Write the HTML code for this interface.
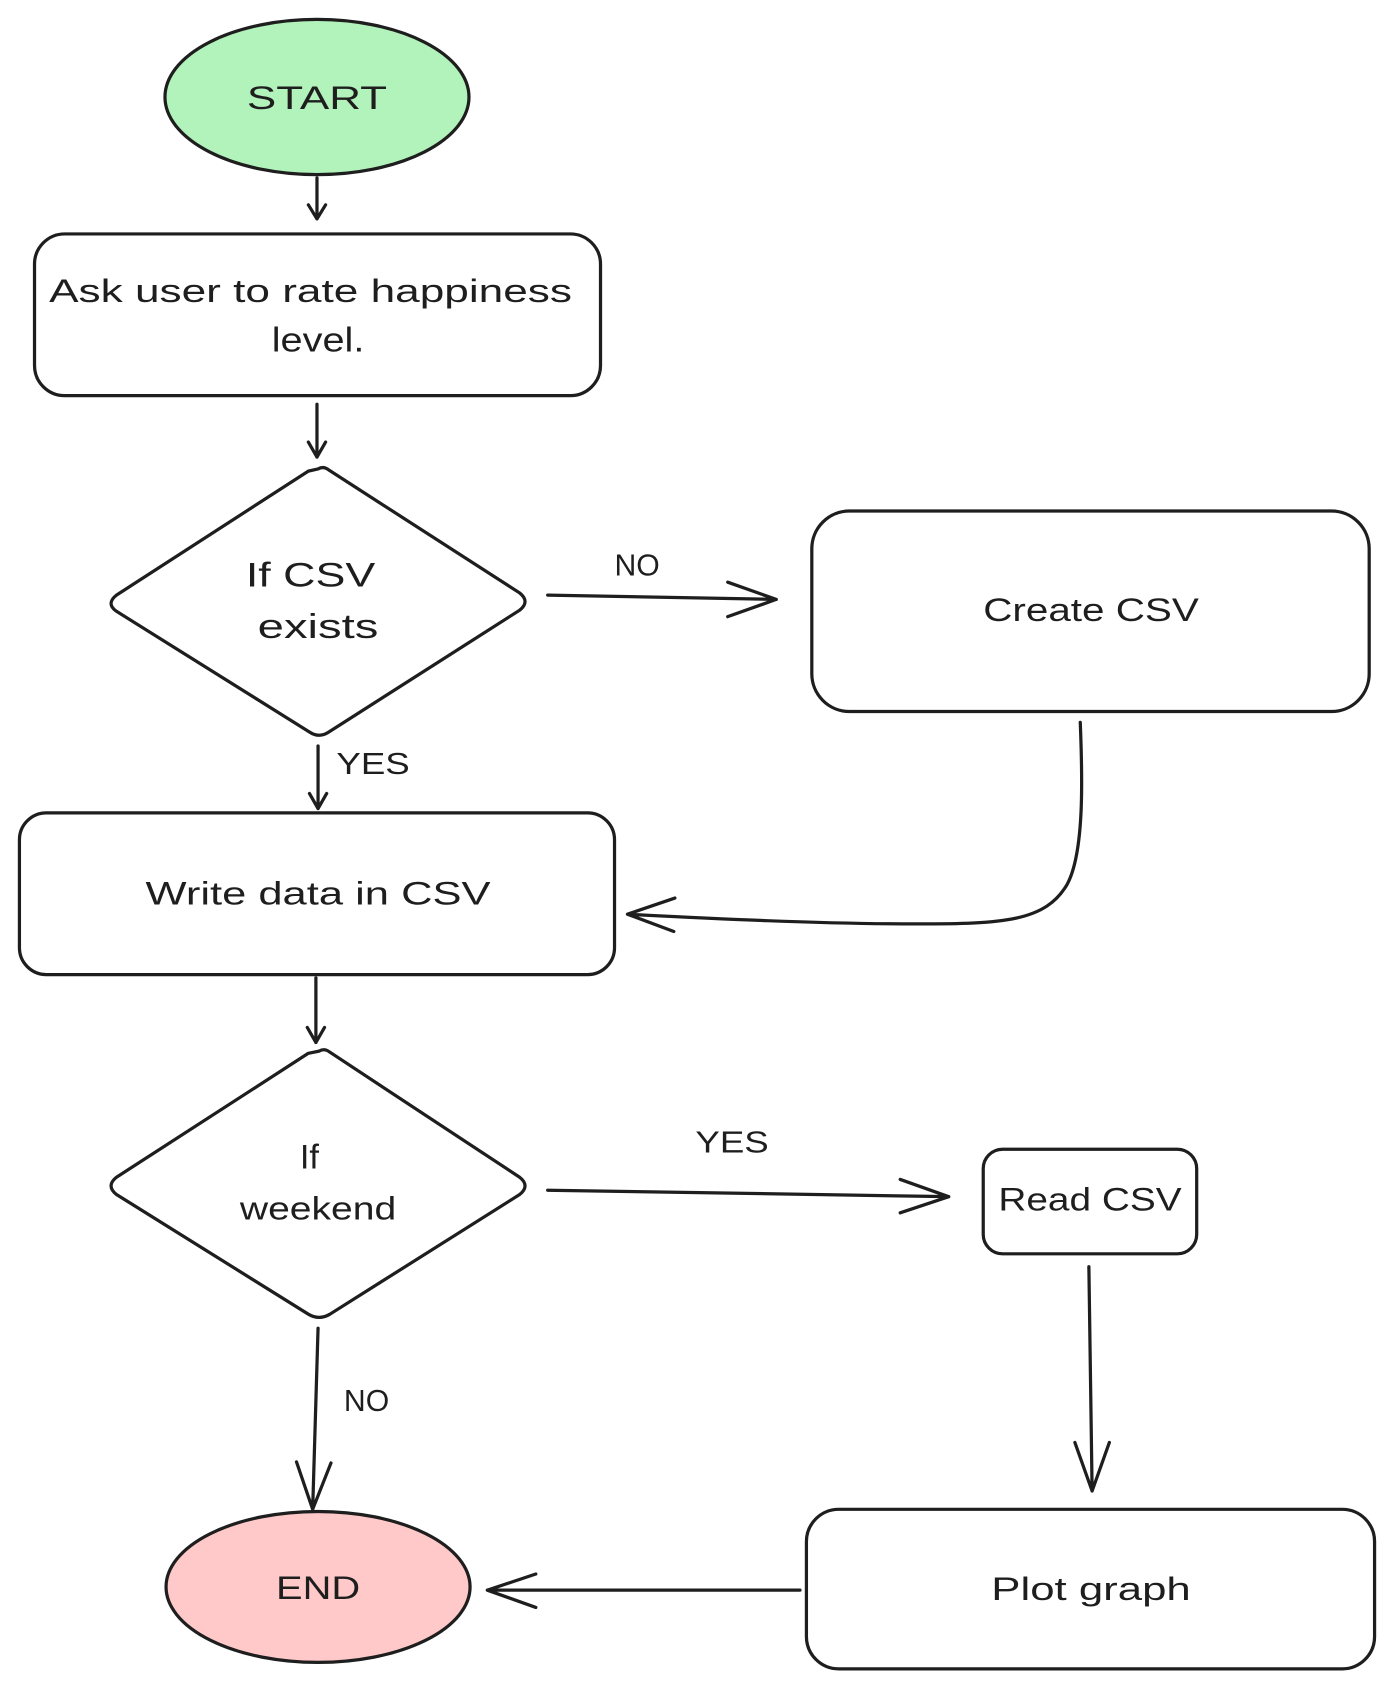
<!DOCTYPE html>
<html><head><meta charset="utf-8"><style>html,body{margin:0;padding:0;background:#fff}svg{display:block}text{font-family:"Liberation Sans",sans-serif;fill:#1e1e1e;text-anchor:middle}</style></head>
<body>
<svg width="1394" height="1690" viewBox="0 0 1293 1567.6" xmlns="http://www.w3.org/2000/svg">
<g stroke="#1e1e1e" stroke-width="3" fill="none" stroke-linecap="round" stroke-linejoin="round">
<ellipse cx="294" cy="90" rx="141" ry="72" fill="#b2f2bb"/>
<rect x="32" y="217" width="525" height="150" rx="28" fill="#fff"/>
<path d="M295 435 Q300 432 305 436 L482 550 Q492 558 482 566 L305 679 Q296 685 287 679 L108 567 Q98 560 108 552 L286 437 Z" fill="#fff"/>
<rect x="753" y="474" width="517" height="186" rx="35" fill="#fff"/>
<rect x="18" y="754" width="552" height="150" rx="25" fill="#fff"/>
<path d="M296 975 Q301 972 306 976 L482 1092 Q492 1100 482 1108 L306 1219 Q296 1225 286 1219 L108 1108 Q98 1100 108 1092 L286 977 Z" fill="#fff"/>
<rect x="912" y="1066" width="198" height="97" rx="18" fill="#fff"/>
<rect x="748" y="1400" width="527" height="148" rx="30" fill="#fff"/>
<ellipse cx="295" cy="1472" rx="141" ry="70" fill="#ffc9c9"/>
<path d="M294 165 L294 203 M286 190 L294 203 L302 190"/>
<path d="M294 375 L294 424 M286 410 L294 424 L302 410"/>
<path d="M508 552 L720 556 M675 540 L720 556 L675 572"/>
<path d="M295 692 L295 750 M287 736 L295 750 L303 736"/>
<path d="M1002 670 C1004 720 1006 790 990 820 C970 855 930 857 850 857 C760 857 660 852 582 848 M626 833 L582 848 L625 864"/>
<path d="M293 907 L293 967 M285 953 L293 967 L301 953"/>
<path d="M508 1104 L880 1110 M835 1094 L880 1110 L835 1125"/>
<path d="M1010 1175 L1013 1383 M997 1338 L1013 1383 L1029 1338"/>
<path d="M742 1475 L452 1475 M497 1460 L452 1475 L497 1491"/>
<path d="M295 1232 L290 1400 M275 1356 L290 1400 L307 1357"/>
</g>
<g font-size="30">
<text x="294" y="101" textLength="130" lengthAdjust="spacingAndGlyphs">START</text>
<text x="288" y="280" textLength="485" lengthAdjust="spacingAndGlyphs">Ask user to rate happiness</text>
<text x="295" y="326" font-size="32" textLength="86" lengthAdjust="spacingAndGlyphs">level.</text>
<text x="288" y="544" font-size="32" textLength="120" lengthAdjust="spacingAndGlyphs">If CSV</text>
<text x="295" y="592" font-size="32" textLength="112" lengthAdjust="spacingAndGlyphs">exists</text>
<text x="591" y="534" font-size="28">NO</text>
<text x="1012" y="576" textLength="200" lengthAdjust="spacingAndGlyphs">Create CSV</text>
<text x="346" y="718" font-size="28" textLength="68" lengthAdjust="spacingAndGlyphs">YES</text>
<text x="295" y="839" textLength="320" lengthAdjust="spacingAndGlyphs">Write data in CSV</text>
<text x="287" y="1084" font-size="32">If</text>
<text x="295" y="1131" textLength="145" lengthAdjust="spacingAndGlyphs">weekend</text>
<text x="679" y="1069" font-size="28" textLength="68" lengthAdjust="spacingAndGlyphs">YES</text>
<text x="1011" y="1123" textLength="170" lengthAdjust="spacingAndGlyphs">Read CSV</text>
<text x="1012" y="1484" textLength="185" lengthAdjust="spacingAndGlyphs">Plot graph</text>
<text x="295" y="1483" font-size="30" textLength="78" lengthAdjust="spacingAndGlyphs">END</text>
<text x="340" y="1309" font-size="28">NO</text>
</g>
</svg>
</body></html>
